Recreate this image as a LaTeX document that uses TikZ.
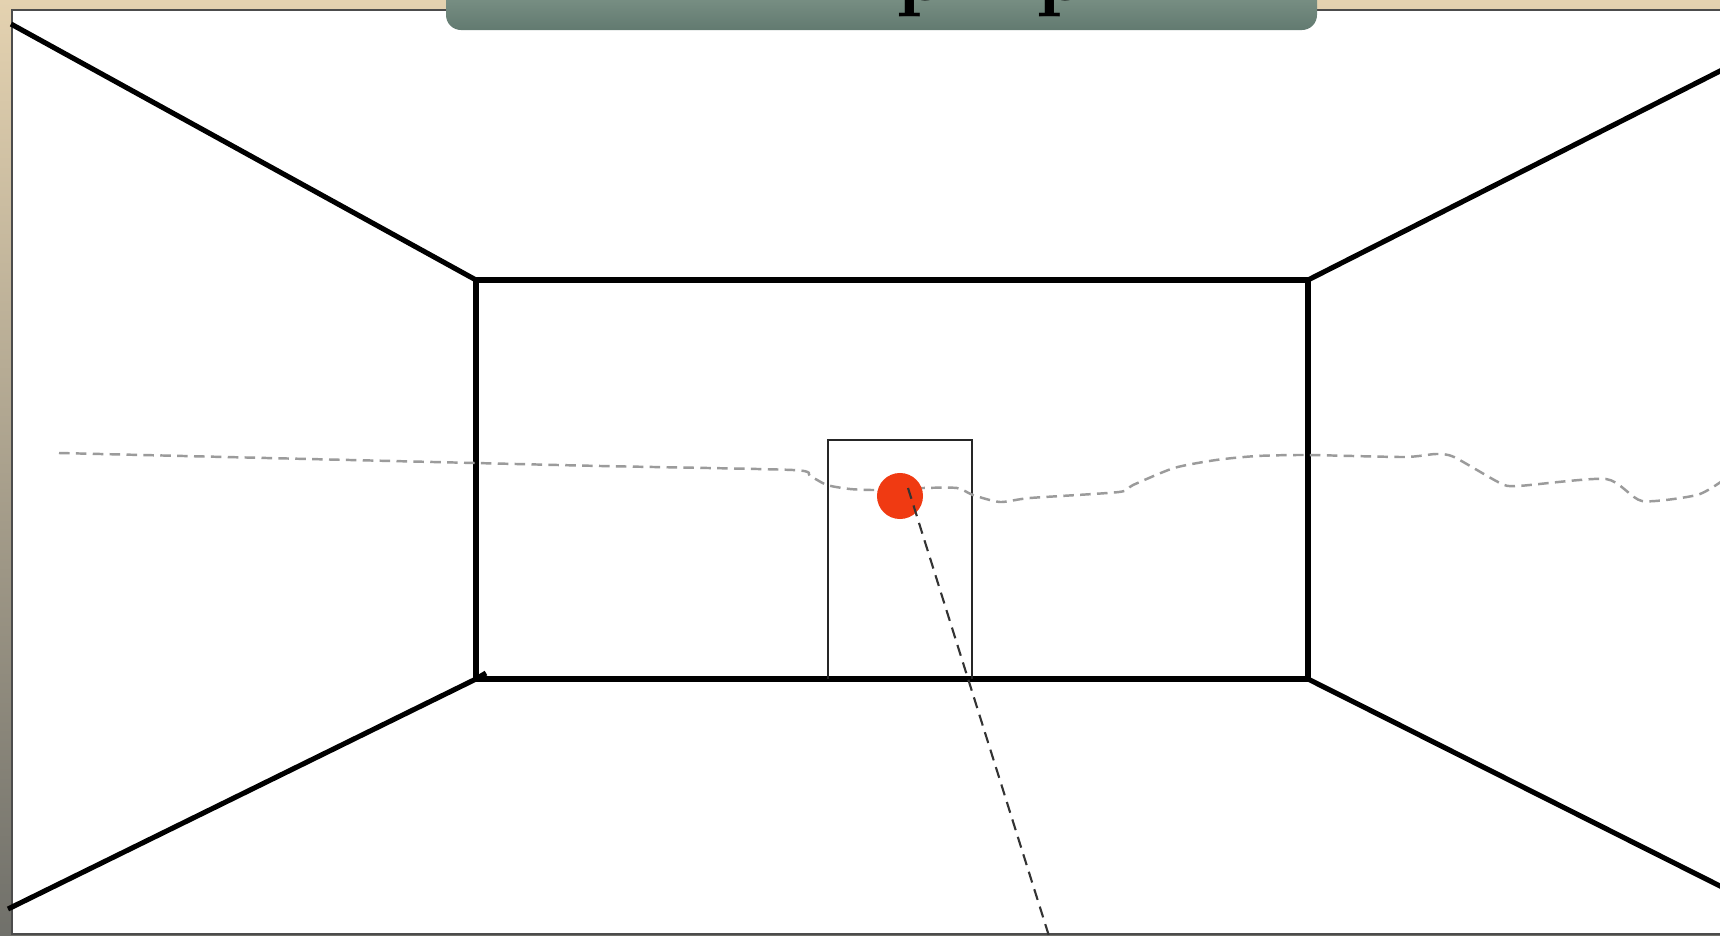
\documentclass[tikz,border=0pt]{standalone}
\usepackage{tikz}
\definecolor{frametan}{RGB}{228,210,176}
\definecolor{framegray}{RGB}{112,112,106}
\definecolor{bannertop}{RGB}{132,154,142}
\definecolor{bannerbot}{RGB}{98,122,112}
\definecolor{dotred}{RGB}{240,58,18}
\definecolor{horizongray}{RGB}{155,155,155}

\begin{document}
\begin{tikzpicture}[
    x=0.01cm,y=-0.01cm,
    edgeline/.style={line width=1.45pt,black},
    doorline/.style={line width=0.55pt,black!85},
    horizon/.style={draw=horizongray,line width=0.7pt,dash pattern=on 3pt off 1.8pt},
    sightline/.style={draw=black!80,line width=0.6pt,dash pattern=on 3.2pt off 2pt},
    glyph/.style={anchor=base west,inner sep=0pt,font=\fontsize{24}{28}\selectfont\bfseries}]

  \useasboundingbox (0,0) rectangle (1720,936);

  % frame and panel
  \shade[top color=frametan,bottom color=framegray] (0,0) rectangle (1720,936);
  \fill[white,draw=black!70,line width=0.5pt] (12,10) rectangle (1722,934);

  % title banner, cut at the top
  \shade[top color=bannertop,bottom color=bannerbot,rounded corners=0.15cm]
    (446,-20) rectangle (1317,30);
  \begin{scope}
    \clip (446,0) rectangle (1317,30);
    \node[glyph] (pone) at (896,0) {p};
    \node[glyph] (ptwo) at (1036,0) {p};
  \end{scope}

  % room corners
  \coordinate (btl) at (476,280);
  \coordinate (btr) at (1308,280);
  \coordinate (bbr) at (1308,679);
  \coordinate (bbl) at (476,679);
  \coordinate (ftl) at (11,24);
  \coordinate (ftr) at (1724,69);
  \coordinate (fbr) at (1724,888);
  \coordinate (fbl) at (8,909);

  \draw[edgeline] (btl) rectangle (bbr);
  \draw[edgeline] (ftl) -- (btl);
  \draw[edgeline] (btr) -- (ftr);
  \draw[edgeline] (bbl) -- (fbl);
  \draw[edgeline] (bbr) -- (fbr);
  \draw[edgeline] (bbl) -- ++(10,-6);

  % door
  \draw[doorline] (828,679) |- (972,440) -- (972,679);

  % horizon
  \draw[horizon] plot[smooth,tension=0.4] coordinates {
    (59,453) (475,463) (601,466) (793,470) (810,476) (827,485) (850,489)
    (877,490) (923,488) (957,488) (973,495) (1000,502) (1030,498)
    (1119,492) (1133,485) (1174,468) (1216,460) (1257,456) (1307,455)
    (1404,457) (1436,454) (1454,457) (1500,483) (1518,486) (1606,479)
    (1642,501) (1697,495) (1722,481)};

  % vanishing point and sight line
  \coordinate (vp) at (900,496);
  \fill[dotred] (vp) circle (0.23cm);
  \coordinate (eye) at (908,488);
  \coordinate (foot) at (1049,936);
  \draw[sightline] (eye) -- (foot);
\end{tikzpicture}
\end{document}
